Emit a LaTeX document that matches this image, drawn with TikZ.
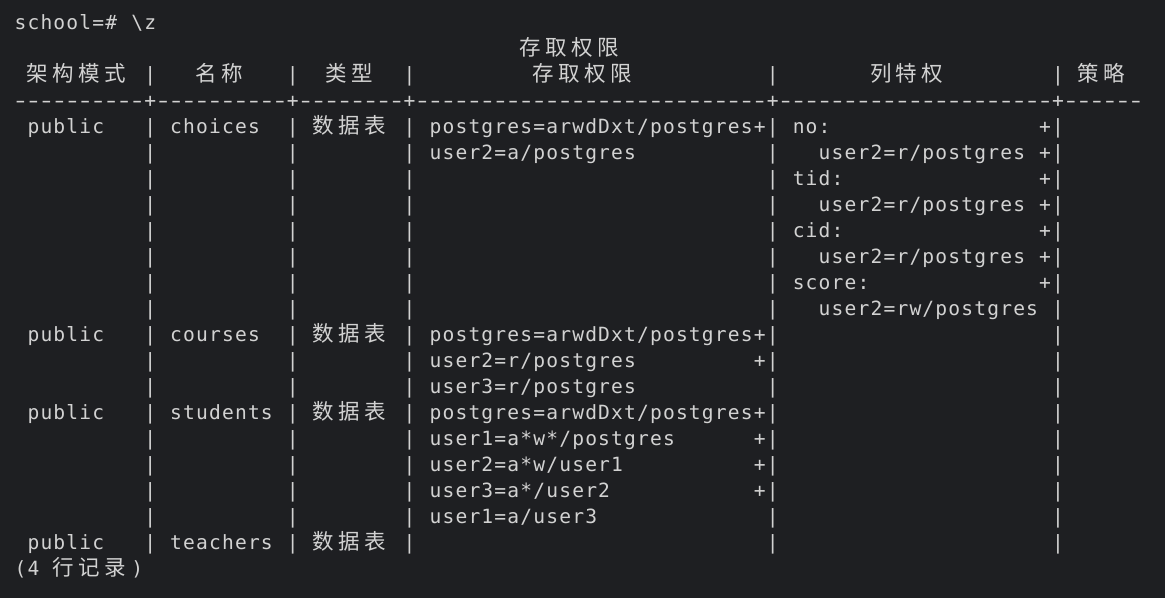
\documentclass[tikz,border=0pt]{standalone}
\usepackage{fontspec}
\usepackage{graphicx}
\setmonofont{DejaVu Sans Mono}
\newfontfamily\cjkfont{Noto Sans CJK SC}
\definecolor{bg}{RGB}{30,31,34}
\definecolor{fg}{RGB}{210,210,210}
\newlength\cw \setlength\cw{12.97pt}
\makeatletter
\def\gstr#1{\gs@loop#1\relax}
\def\gs@loop#1{\ifx#1\relax\else\makebox[\cw][c]{\gs@char#1}\expandafter\gs@loop\fi}
\def\gs@char#1{\ifx-#1\scalebox{1.5}[1]{-}\else#1\fi}
\def\cstr#1{\ck@loop#1\relax}
\def\ck@loop#1{\ifx#1\relax\else\makebox[2\cw][l]{#1}\expandafter\ck@loop\fi}
\makeatother
\newcommand\putt[3]{\node[txt] (t#2c#1) at ({14+#1*12.97},{568.7-26*#2}) {\gstr{#3}};}
\newcommand\putc[3]{\node[ctx] (k#2c#1) at ({14+#1*12.97},{568.7-26*#2}) {\cstr{#3}};}
\newcommand\seps[1]{\foreach \cc in {10,21,30,58,80}{\putt{\cc}{#1}{|}}}
\begin{document}
\begin{tikzpicture}[x=1pt,y=1pt,
  txt/.style={anchor=base west, inner sep=0pt, outer sep=0pt, text=fg,
    font=\ttfamily\fontsize{19.6}{26}\selectfont},
  ctx/.style={anchor=base west, inner sep=0pt, outer sep=0pt, text=fg,
    font=\cjkfont\fontsize{21.5}{26}\selectfont}]
\fill[bg] (0,0) rectangle (1165,598);
\useasboundingbox (0,0) rectangle (1165,598);
% prompt
\putt{0}{0}{school=\#}
\putt{9}{0}{\textbackslash z}
% header
\putc{39}{1}{存取权限}
\putc{1}{2}{架构模式}
\putc{14}{2}{名称}
\putc{24}{2}{类型}
\putc{40}{2}{存取权限}
\putc{66}{2}{列特权}
\putc{82}{2}{策略}
\seps{2}
\putt{0}{3}{----------+----------+--------+---------------------------+---------------------+------}
% body separators
\foreach \rr in {4,...,20}{\seps{\rr}}
% choices
\putt{1}{4}{public}
\putt{12}{4}{choices}
\putc{23}{4}{数据表}
\putt{32}{4}{postgres=arwdDxt/postgres+}
\putt{60}{4}{no:}
\putt{79}{4}{+}
\putt{32}{5}{user2=a/postgres}
\putt{62}{5}{user2=r/postgres}
\putt{79}{5}{+}
\putt{60}{6}{tid:}
\putt{79}{6}{+}
\putt{62}{7}{user2=r/postgres}
\putt{79}{7}{+}
\putt{60}{8}{cid:}
\putt{79}{8}{+}
\putt{62}{9}{user2=r/postgres}
\putt{79}{9}{+}
\putt{60}{10}{score:}
\putt{79}{10}{+}
\putt{62}{11}{user2=rw/postgres}
% courses
\putt{1}{12}{public}
\putt{12}{12}{courses}
\putc{23}{12}{数据表}
\putt{32}{12}{postgres=arwdDxt/postgres+}
\putt{32}{13}{user2=r/postgres}
\putt{57}{13}{+}
\putt{32}{14}{user3=r/postgres}
% students
\putt{1}{15}{public}
\putt{12}{15}{students}
\putc{23}{15}{数据表}
\putt{32}{15}{postgres=arwdDxt/postgres+}
\putt{32}{16}{user1=a*w*/postgres}
\putt{57}{16}{+}
\putt{32}{17}{user2=a*w/user1}
\putt{57}{17}{+}
\putt{32}{18}{user3=a*/user2}
\putt{57}{18}{+}
\putt{32}{19}{user1=a/user3}
% teachers
\putt{1}{20}{public}
\putt{12}{20}{teachers}
\putc{23}{20}{数据表}
% footer
\putt{0}{21}{(4}
\putc{3}{21}{行记录}
\putt{9}{21}{)}
\end{tikzpicture}
\end{document}
